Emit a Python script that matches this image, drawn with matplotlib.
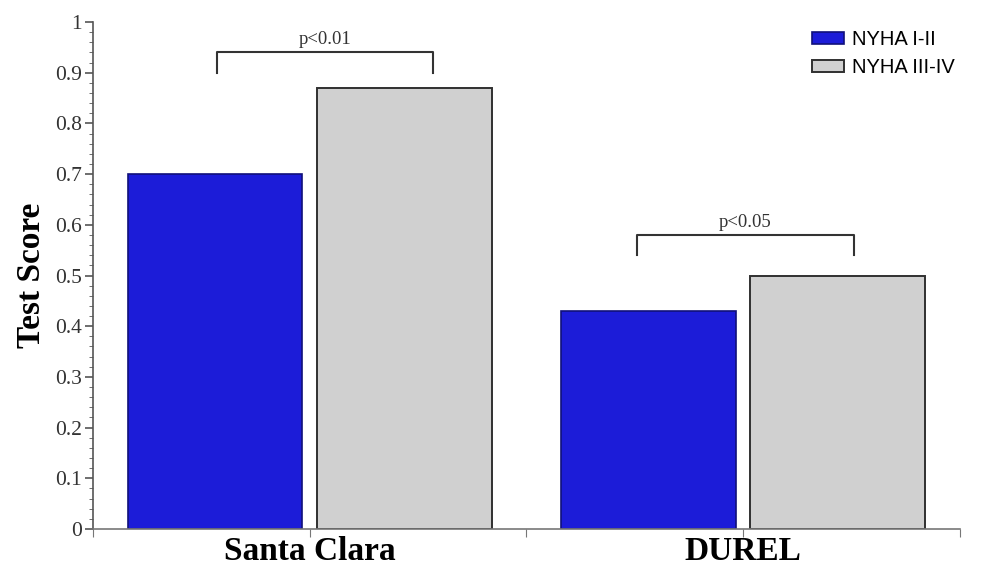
import matplotlib.pyplot as plt
import numpy as np
from matplotlib.ticker import MultipleLocator, FuncFormatter

# data
groups = ["Santa Clara", "DUREL"]
nyha_low = [0.70, 0.43]
nyha_high = [0.87, 0.50]
p_labels = ["p<0.01", "p<0.05"]
bracket_top = [0.94, 0.58]
bracket_foot = [0.90, 0.54]

serif = "Liberation Serif"
sans = "Liberation Sans"

fig = plt.figure(figsize=(9.87, 5.66), dpi=100)
ax = fig.add_axes([0.0942, 0.0654, 0.8784, 0.8956])

centers = np.array([1.0, 3.0])
w = 0.807
off = 0.437
ax.bar(centers - off, nyha_low, width=w, color="#1c1cd8", edgecolor="#10107a",
       linewidth=1.2, label="NYHA I-II")
ax.bar(centers + off, nyha_high, width=w, color="#d0d0d0", edgecolor="#303030",
       linewidth=1.4, label="NYHA III-IV")

# significance brackets (left/right ends relative to group centre)
bracket_span = [(-0.43, 0.57), (-0.49, 0.51)]
for c, (a, b), top, foot, lab in zip(centers, bracket_span, bracket_top,
                                     bracket_foot, p_labels):
    x0, x1 = c + a, c + b
    ax.plot([x0, x0, x1, x1], [foot, top, top, foot], color="#333333", lw=1.5)
    ax.text((x0 + x1) / 2, top + 0.008, lab, ha="center", va="bottom",
            fontsize=13.5, family=serif, color="#333333")

ax.set_xlim(0, 4)
ax.set_ylim(0, 1)
ax.set_xticks([0, 1, 2, 3, 4])
ax.set_xticklabels(["", groups[0], "", groups[1], ""], family=serif,
                   fontsize=24, fontweight="bold")
ax.yaxis.set_major_locator(MultipleLocator(0.1))
ax.yaxis.set_minor_locator(MultipleLocator(0.02))
ax.yaxis.set_major_formatter(FuncFormatter(lambda v, p: f"{v:g}"))
for lbl in ax.get_yticklabels():
    lbl.set_family(serif)
ax.tick_params(axis="y", labelsize=15.5, labelcolor="#333333", color="#555555",
               length=6, width=1.2, pad=2)
ax.tick_params(axis="y", which="minor", length=3, color="#555555")
ax.tick_params(axis="x", length=6, color="#777777", pad=-1)
ax.set_ylabel("Test Score", family=serif, fontsize=24, fontweight="bold",
              labelpad=6)

for s in ["top", "right"]:
    ax.spines[s].set_visible(False)
ax.spines["left"].set_color("#555555")
ax.spines["left"].set_linewidth(1.2)
ax.spines["bottom"].set_color("#777777")
ax.spines["bottom"].set_linewidth(1.2)

leg = ax.legend(loc="upper right", bbox_to_anchor=(1.015, 1.02), frameon=False,
                prop={"family": sans, "size": 14.5}, handlelength=1.6,
                handleheight=0.6, labelspacing=0.45, handletextpad=0.4)

fig.savefig("out.png", dpi=100)
